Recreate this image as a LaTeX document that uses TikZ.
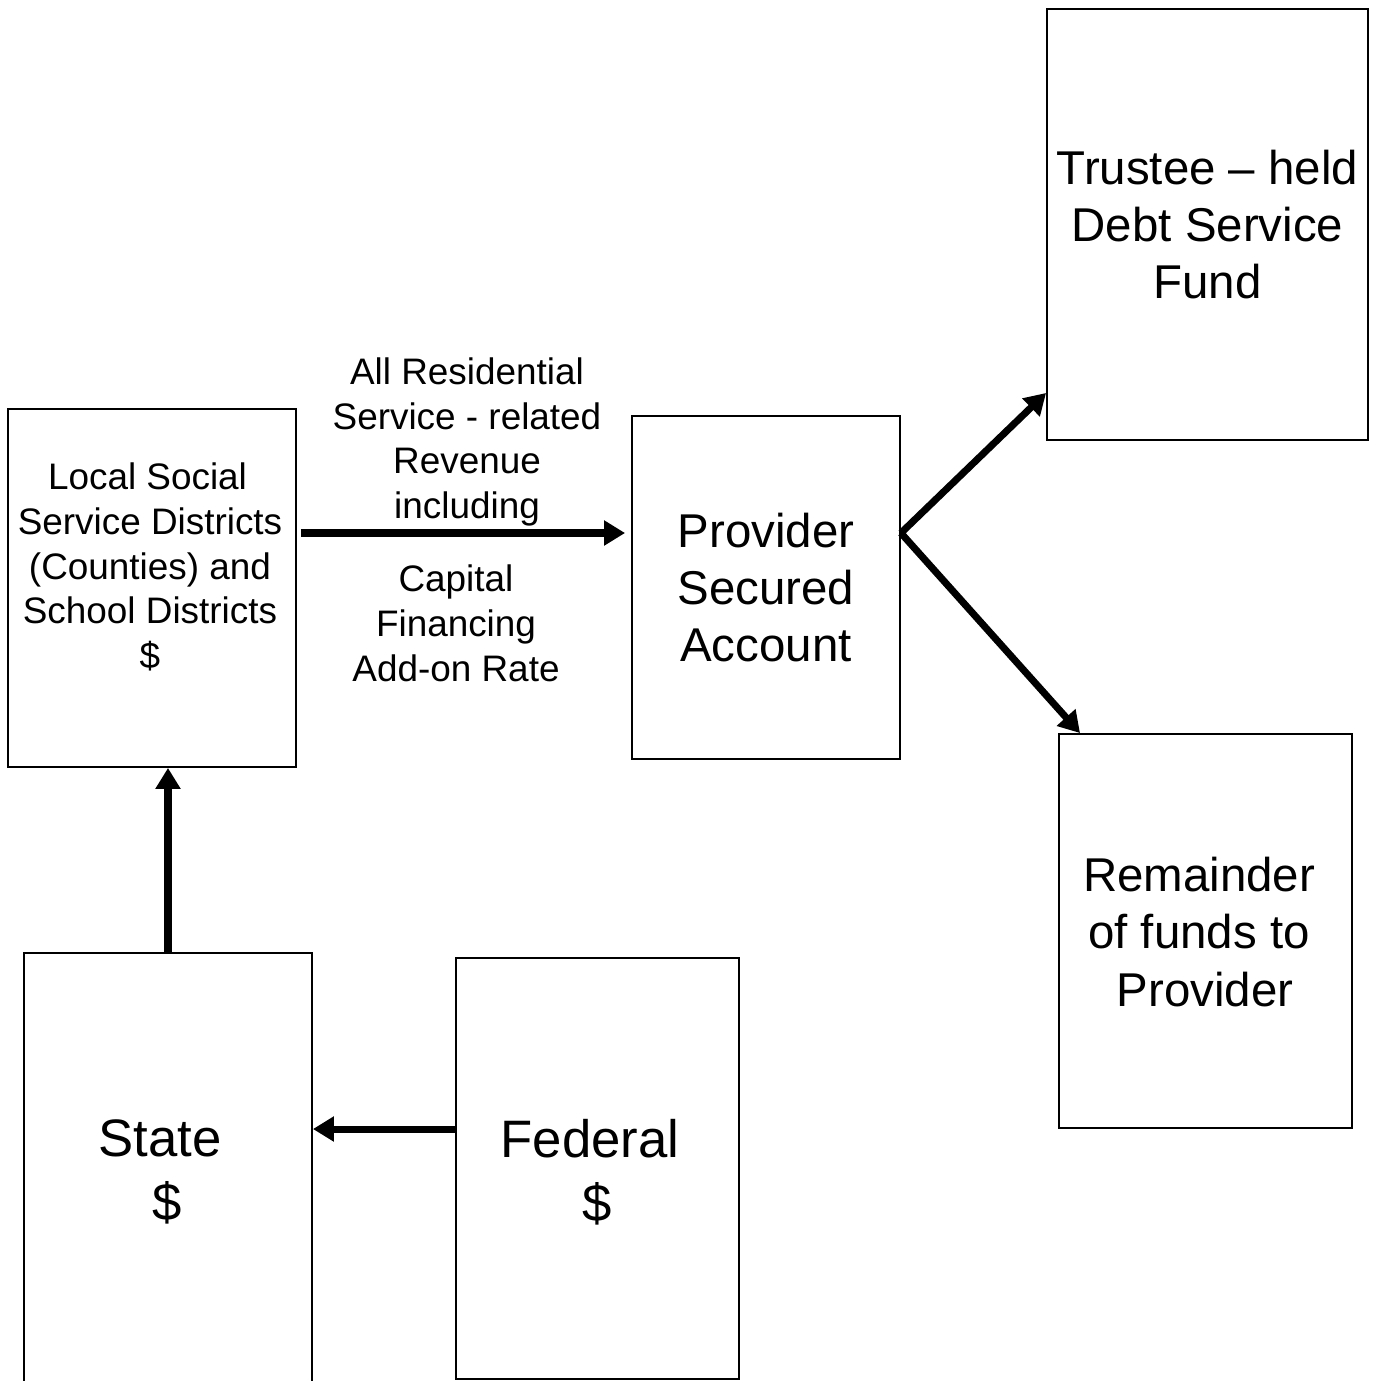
\documentclass[tikz,border=0pt]{standalone}
\usepackage{fontspec}
\setmainfont{Liberation Sans}
\usetikzlibrary{arrows.meta}

\tikzset{
  box/.style={draw, line width=1.1pt, inner sep=0pt},
  flow/.style={line width=4pt, -{Triangle[length=0.42cm,width=0.48cm]}},
  smalltext/.style={align=center, font=\fontsize{21}{25.5}\selectfont},
  midtext/.style={align=center, font=\fontsize{27}{32.5}\selectfont},
  bigtext/.style={align=center, font=\fontsize{30}{36.3}\selectfont}
}

\begin{document}
\begin{tikzpicture}[x=0.02cm, y=-0.02cm]
	\useasboundingbox (0,0) rectangle (1375,1381);
	%\draw[help lines] (0,0) grid[step=100] (1375,1381);
	% boxes
	\node[box, minimum width=5.76cm, minimum height=7.16cm] (local) at (152,588) {};
	\node[smalltext] (localtxt) at (150,567) {Local Social\hspace*{0.1cm}\\Service Districts\\(Counties) and\\School Districts\\\$};
	\node[box, midtext, minimum width=5.36cm, minimum height=6.86cm] (provider) at (766,587.5) {Provider\\Secured\\Account};
	\node[box, midtext, minimum width=6.42cm, minimum height=8.62cm] (trustee) at (1207.5,224.5) {Trustee -- held\\Debt Service\\Fund};
	\node[box, minimum width=5.86cm, minimum height=7.88cm] (remainder) at (1205.5,931) {};
	\node[midtext] (remaindertxt) at (1199,932) {Remainder\\of funds to\\\hspace*{0.24cm}Provider};
	\node[box, minimum width=5.76cm, minimum height=9.6cm] (state) at (168,1193) {};
	\node[bigtext] (statetxt) at (160,1172) {State\\\hspace*{0.28cm}\$};
	\node[box, minimum width=5.66cm, minimum height=8.42cm] (federal) at (597.5,1168.5) {};
	\node[bigtext] (federaltxt) at (590,1172) {Federal\\\hspace*{0.28cm}\$};

	% flows
	\draw[flow] ([xshift=0.08cm,yshift=1.1cm]local.east) -- ([xshift=-0.12cm,yshift=1.1cm]local.east -| provider.west);
	\node[smalltext] (revtxt) at (467,442) {All Residential\\Service - related\\Revenue\\including};
	\node[smalltext] (captxt) at (456,623.5) {Capital\\Financing\\Add-on Rate};
	\draw[flow] (state.north) -- (state.north |- local.south);
	\draw[flow] ([yshift=0.79cm]federal.west) -- ([yshift=0.79cm]federal.west -| state.east);
	\coordinate (split) at ([yshift=1.09cm]provider.east);
	\draw[flow] (split) -- ([yshift=-3.37cm]trustee.west);
	\draw[flow] (split) -- ([xshift=-2.51cm]remainder.north);
\end{tikzpicture}
\end{document}
